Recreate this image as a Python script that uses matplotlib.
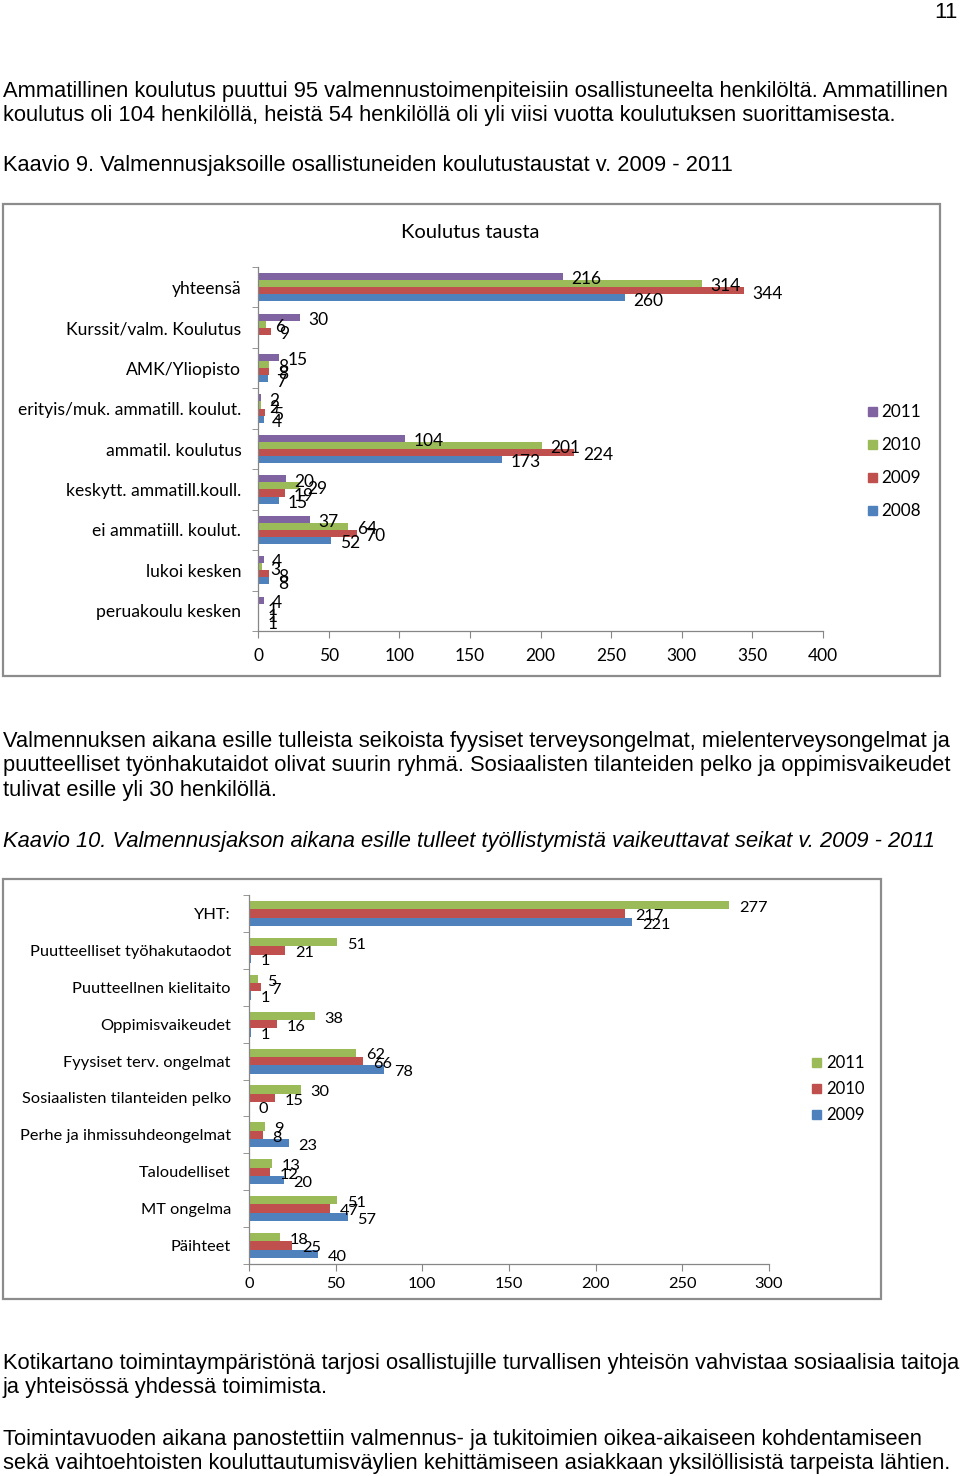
import numpy as np
import matplotlib
matplotlib.use("Agg")
import matplotlib.pyplot as plt
from matplotlib import font_manager
from matplotlib.patches import Rectangle

# --- data ---
edu_cats = ["yhteensä", "Kurssit/valm. Koulutus", "AMK/Yliopisto",
            "erityis/muk. ammatill. koulut.", "ammatil. koulutus",
            "keskytt. ammatill.koull.", "ei ammatiill. koulut.",
            "lukoi kesken", "peruakoulu kesken"]
edu_2011 = [216, 30, 15, 2, 104, 20, 37, 4, 4]
edu_2010 = [314, 6, 8, 2, 201, 29, 64, 3, 1]
edu_2009 = [344, 9, 8, 5, 224, 19, 70, 8, 1]
edu_2008 = [260, np.nan, 7, 4, 173, 15, 52, 8, 1]

obs_cats = ["YHT:", "Puutteelliset työhakutaodot", "Puutteellnen kielitaito",
            "Oppimisvaikeudet", "Fyysiset terv. ongelmat",
            "Sosiaalisten tilanteiden pelko", "Perhe ja ihmissuhdeongelmat",
            "Taloudelliset", "MT ongelma", "Päihteet"]
obs_2011 = [277, 51, 5, 38, 62, 30, 9, 13, 51, 18]
obs_2010 = [217, 21, 7, 16, 66, 15, 8, 12, 47, 25]
obs_2009 = [221, 1, 1, 1, 78, 0, 23, 20, 57, 40]

PURPLE, GREEN, RED, BLUE = "#8064A2", "#9BBB59", "#C0504D", "#4F81BD"

W, H = 960, 1476


def pick(names):
    for n in names:
        try:
            font_manager.findfont(n, fallback_to_default=False)
            return n
        except Exception:
            pass
    return "DejaVu Sans"


TXT = pick(["Liberation Sans"])
CHF = pick(["Lato", "Open Sans"])
txt_size = 15.75

fig = plt.figure(figsize=(W / 100, H / 100), dpi=100)


def ftext(x, y, s, **kw):
    fig.text(x / W, 1 - y / H, s, va="center", **kw)


def box(x0, y0, x1, y1):
    fig.patches.append(Rectangle((x0 / W, 1 - y1 / H), (x1 - x0) / W, (y1 - y0) / H,
                                 transform=fig.transFigure, fill=False,
                                 edgecolor="#8c8c8c", lw=1.6))


def axes_px(l, t, r, b):
    return fig.add_axes([l / W, 1 - b / H, (r - l) / W, (b - t) / H])


# page text
ftext(958, 12, "11", ha="right", family=TXT, size=16)
para = dict(family=TXT, size=txt_size, ha="left")
ftext(3, 91, "Ammatillinen koulutus puuttui 95 valmennustoimenpiteisiin osallistuneelta henkilöltä. Ammatillinen", **para)
ftext(3, 116, "koulutus oli 104 henkilöllä, heistä 54 henkilöllä oli yli viisi vuotta koulutuksen suorittamisesta.", **para)
ftext(3, 166, "Kaavio 9. Valmennusjaksoille osallistuneiden koulutustaustat v. 2009 - 2011", **para)
ftext(3, 741, "Valmennuksen aikana esille tulleista seikoista fyysiset terveysongelmat, mielenterveysongelmat ja", **para)
ftext(3, 766, "puutteelliset työnhakutaidot olivat suurin ryhmä. Sosiaalisten tilanteiden pelko ja oppimisvaikeudet", **para)
ftext(3, 791, "tulivat esille yli 30 henkilöllä.", **para)
ftext(3, 841, "Kaavio 10. Valmennusjakson aikana esille tulleet työllistymistä vaikeuttavat seikat v. 2009 - 2011",
      style="italic", **para)
ftext(3, 1363, "Kotikartano toimintaympäristönä tarjosi osallistujille turvallisen yhteisön vahvistaa sosiaalisia taitoja", **para)
ftext(3, 1388, "ja yhteisössä yhdessä toimimista.", **para)
ftext(3, 1439, "Toimintavuoden aikana panostettiin valmennus- ja tukitoimien oikea-aikaiseen kohdentamiseen", **para)
ftext(3, 1464, "sekä vaihtoehtoisten kouluttautumisväylien kehittämiseen asiakkaan yksilöllisistä tarpeista lähtien.", **para)

box(3, 204, 940, 676)
box(3, 879, 881, 1299)


def hbars(ax, cats, series, colors, xmax, xstep, group, lab_size, tick_size, off, xpad, ypad):
    n = len(cats)
    k = len(series)
    y = np.arange(n)
    h = group / k
    for j, (vals, c) in enumerate(zip(series, colors)):
        pos = y + (j - (k - 1) / 2) * h
        vals = np.array(vals, dtype=float)
        ax.barh(pos, np.nan_to_num(vals), height=h, color=c, edgecolor="none")
        for p, v in zip(pos, vals):
            if np.isnan(v):
                continue
            ax.annotate(f"{v:.0f}", (v, p), xytext=(off, -2), textcoords="offset points",
                        va="center", ha="left", size=lab_size, family=CHF)
    ax.set_xlim(0, xmax)
    ax.set_ylim(n - 0.5, -0.5)
    ax.set_yticks(y)
    ax.set_yticklabels(cats, family=CHF, size=tick_size)
    ax.set_yticks(np.arange(-0.5, n), minor=True)
    ax.tick_params(axis="y", which="major", length=0, pad=ypad)
    ax.tick_params(axis="y", which="minor", length=4, color="#868686")
    ax.set_xticks(np.arange(0, xmax + 1, xstep))
    ax.tick_params(axis="x", length=5, color="#868686", labelsize=lab_size, pad=xpad)
    for t in ax.get_xticklabels():
        t.set_family(CHF)
    for s in ["top", "right"]:
        ax.spines[s].set_visible(False)
    for s in ["left", "bottom"]:
        ax.spines[s].set_color("#868686")
        ax.spines[s].set_linewidth(0.9)


ax1 = axes_px(258, 267, 823, 631)
hbars(ax1, edu_cats, [edu_2011, edu_2010, edu_2009, edu_2008],
      [PURPLE, GREEN, RED, BLUE], 400, 50, 0.7, 12.5, 12.6, 6, 7, 12)
ftext(470, 232, "Koulutus tausta", ha="center", family=CHF, size=14.5)
for i, (lab, c) in enumerate(zip(["2011", "2010", "2009", "2008"], [PURPLE, GREEN, RED, BLUE])):
    yy = 412 + i * 33
    fig.patches.append(Rectangle((868 / W, 1 - (yy + 4) / H), 9 / W, 9 / H,
                                 transform=fig.transFigure, color=c))
    ftext(881, yy, lab, ha="left", family=CHF, size=12.3)

ax2 = axes_px(249, 895, 769, 1264)
hbars(ax2, obs_cats, [obs_2011, obs_2010, obs_2009],
      [GREEN, RED, BLUE], 300, 50, 0.68, 11.8, 11.8, 7, 4, 13)
for i, (lab, c) in enumerate(zip(["2011", "2010", "2009"], [GREEN, RED, BLUE])):
    yy = 1063 + i * 26
    fig.patches.append(Rectangle((812 / W, 1 - (yy + 4) / H), 9 / W, 9 / H,
                                 transform=fig.transFigure, color=c))
    ftext(826, yy, lab, ha="left", family=CHF, size=12)

fig.savefig("out.png", dpi=100)
